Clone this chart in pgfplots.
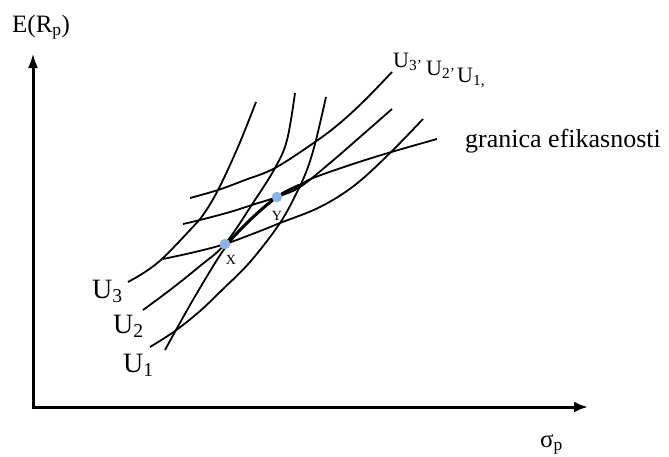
\documentclass[border=0pt]{standalone}
\usepackage{fontspec}
\setmainfont{Liberation Serif}
\usepackage{pgfplots}
\pgfplotsset{compat=1.18}
\usetikzlibrary{arrows.meta}
\definecolor{dotblue}{RGB}{141,180,226}
\begin{document}
\begin{tikzpicture}
\begin{axis}[
  width=669pt, height=456pt, scale only axis,
  xmin=0, xmax=669, ymin=0, ymax=456, y dir=reverse,
  hide axis, clip=false,
]
\addplot[draw=none] coordinates {(0,0) (669,456)};
% axes
\addplot[line width=3pt, -{Latex[length=15pt,width=10pt]}] coordinates {(33,408.5) (33,53)};
\addplot[line width=3pt, -{Latex[length=14pt,width=11pt]}] coordinates {(31.5,407) (588,407)};
% steep indifference curves U3, U2, U1
\addplot[line width=1.8pt, smooth, tension=0.6] coordinates {(128,282) (145,272) (163,258) (190,230) (203,215) (218,190) (238,147) (256,102)};
\addplot[line width=1.8pt, smooth, tension=0.6] coordinates {(143,310) (170,290) (200,266) (225,244) (253,203) (275,168) (287,140) (295,93)};
\addplot[line width=1.8pt, smooth, tension=0.6] coordinates {(150,347) (175,331) (200,311) (222,290) (250,262) (280,223) (298,190) (308,167) (316,140) (326,97)};
% flatter indifference curves U3', U2', U1'
\addplot[line width=1.8pt, smooth, tension=0.6] coordinates {(190,198) (218,190) (245,180) (275,168) (315,142) (340,123) (365,100) (392,72)};
\addplot[line width=1.8pt, smooth, tension=0.6] coordinates {(183,224) (200,220) (230,212) (255,204) (277,197) (300,187) (330,163) (360,137) (392,109)};
\addplot[line width=1.8pt, smooth, tension=0.6] coordinates {(163,259) (195,252) (225,244) (255,233) (280,223) (320,207) (355,185) (390,153) (423,119)};
% efficient frontier
\addplot[line width=1.8pt, smooth, tension=0.6] coordinates {(165,350) (176,330) (197,293) (225,248) (250,220) (277,197) (300,185) (313,178) (350,165) (388,153) (437,139)};
\addplot[line width=3pt, smooth, tension=0.6] coordinates {(225,246) (250,220) (277,197) (300,185)};
% points X and Y
\addplot[only marks, mark=*, mark size=5pt, dotblue, mark options={draw=dotblue, fill=dotblue}] coordinates {(225,244) (277,197)};
% labels
\node[anchor=base west, font=\fontsize{25}{28}\selectfont, inner sep=0pt] at (axis cs:12,32) {E(R\textsubscript{p})};
\node[anchor=base west, font=\fontsize{25}{28}\selectfont, inner sep=0pt] at (axis cs:540,447) {σ\textsubscript{p}};
\node[anchor=base west, font=\fontsize{26}{28}\selectfont, inner sep=0pt] at (axis cs:465,147) {granica efikasnosti};
\node[anchor=base west, font=\fontsize{22}{26}\selectfont, inner sep=0pt] at (axis cs:393,67) {U\textsubscript{3'}};
\node[anchor=base west, font=\fontsize{22}{26}\selectfont, inner sep=0pt] at (axis cs:426,75) {U\textsubscript{2'}};
\node[anchor=base west, font=\fontsize{22}{26}\selectfont, inner sep=0pt] at (axis cs:457,82) {U\textsubscript{1,}};
\node[anchor=base west, font=\fontsize{28}{30}\selectfont, inner sep=0pt] at (axis cs:92,298) {U\textsubscript{3}};
\node[anchor=base west, font=\fontsize{28}{30}\selectfont, inner sep=0pt] at (axis cs:113,333) {U\textsubscript{2}};
\node[anchor=base west, font=\fontsize{28}{30}\selectfont, inner sep=0pt] at (axis cs:123,372) {U\textsubscript{1}};
\node[font=\fontsize{14}{16}\selectfont, inner sep=0pt] at (axis cs:231,260) {X};
\node[font=\fontsize{14}{16}\selectfont, inner sep=0pt] at (axis cs:277,216) {Y};
\end{axis}
\end{tikzpicture}
\end{document}
